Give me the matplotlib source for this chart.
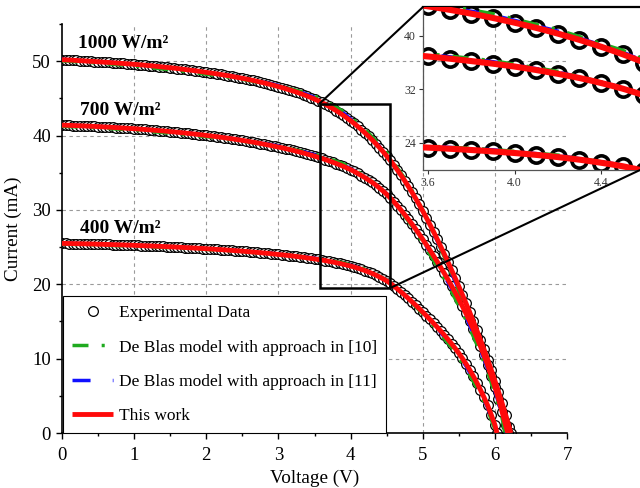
import numpy as np
import matplotlib
matplotlib.use("Agg")
import matplotlib.pyplot as plt
from matplotlib.patches import Rectangle, ConnectionPatch
from matplotlib.ticker import MultipleLocator

plt.rcParams['font.family'] = ['Liberation Serif', 'DejaVu Serif']
plt.rcParams['lines.scale_dashes'] = False

# ---------------------------------------------------------------
# measured I-V data (voltage in V, current in mA)
# ---------------------------------------------------------------
volt_grid = [0.00, 0.05, 0.10, 0.15, 0.20, 0.25, 0.30, 0.35, 0.40, 0.45,
             0.50, 0.55, 0.60, 0.65, 0.70, 0.75, 0.80, 0.85, 0.90, 0.95,
             1.00, 1.05, 1.10, 1.15, 1.20, 1.25, 1.30, 1.35, 1.40, 1.45,
             1.50, 1.55, 1.60, 1.65, 1.70, 1.75, 1.80, 1.85, 1.90, 1.95,
             2.00, 2.05, 2.10, 2.15, 2.20, 2.25, 2.30, 2.35, 2.40, 2.45,
             2.50, 2.55, 2.60, 2.65, 2.70, 2.75, 2.80, 2.85, 2.90, 2.95,
             3.00, 3.05, 3.10, 3.15, 3.20, 3.25, 3.30, 3.35, 3.40, 3.45,
             3.50, 3.55, 3.60, 3.65, 3.70, 3.75, 3.80, 3.85, 3.90, 3.95,
             4.00, 4.05, 4.10, 4.15, 4.20, 4.25, 4.30, 4.35, 4.40, 4.45,
             4.50, 4.55, 4.60, 4.65, 4.70, 4.75, 4.80, 4.85, 4.90, 4.95,
             5.00, 5.05, 5.10, 5.15, 5.20, 5.25, 5.30, 5.35, 5.40, 5.45,
             5.50, 5.55, 5.60, 5.65, 5.70, 5.75, 5.80, 5.85, 5.90, 5.95,
             6.00]

v_1000 = volt_grid + [6.05, 6.1, 6.15, 6.2, 6.22]
i_1000 = [50.20, 50.18, 50.15, 50.13, 50.10, 50.07, 50.04, 50.01, 49.98, 49.95,
          49.92, 49.89, 49.86, 49.83, 49.79, 49.76, 49.72, 49.69, 49.65, 49.62,
          49.58, 49.54, 49.50, 49.46, 49.41, 49.37, 49.32, 49.27, 49.22, 49.17,
          49.12, 49.07, 49.01, 48.95, 48.89, 48.83, 48.77, 48.71, 48.64, 48.57,
          48.50, 48.43, 48.36, 48.29, 48.21, 48.13, 48.05, 47.97, 47.88, 47.79,
          47.70, 47.61, 47.51, 47.41, 47.30, 47.19, 47.08, 46.96, 46.84, 46.71,
          46.58, 46.44, 46.30, 46.15, 46.00, 45.84, 45.67, 45.49, 45.31, 45.11,
          44.91, 44.69, 44.45, 44.20, 43.93, 43.65, 43.35, 43.04, 42.71, 42.36,
          42.00, 41.62, 41.22, 40.80, 40.36, 39.90, 39.42, 38.91, 38.39, 37.84,
          37.26, 36.65, 36.02, 35.35, 34.66, 33.93, 33.18, 32.39, 31.58, 30.73,
          29.86, 28.96, 28.03, 27.07, 26.08, 25.07, 24.04, 22.99, 21.92, 20.83,
          19.72, 18.59, 17.44, 16.26, 15.05, 13.81, 12.54, 11.23, 9.88, 8.49,
          7.05, 5.56, 4.02, 2.43, 0.78, 0.0]

v_700 = volt_grid + [6.05, 6.1, 6.15, 6.18]
i_700 = [41.40, 41.39, 41.37, 41.35, 41.33, 41.31, 41.29, 41.27, 41.25, 41.23,
         41.20, 41.18, 41.15, 41.13, 41.10, 41.07, 41.04, 41.01, 40.98, 40.95,
         40.92, 40.89, 40.85, 40.82, 40.78, 40.74, 40.70, 40.66, 40.62, 40.58,
         40.53, 40.49, 40.44, 40.39, 40.34, 40.29, 40.24, 40.19, 40.13, 40.08,
         40.02, 39.96, 39.90, 39.84, 39.77, 39.71, 39.64, 39.57, 39.50, 39.43,
         39.35, 39.27, 39.19, 39.11, 39.02, 38.93, 38.84, 38.75, 38.65, 38.55,
         38.45, 38.35, 38.24, 38.13, 38.01, 37.89, 37.77, 37.64, 37.51, 37.37,
         37.23, 37.08, 36.93, 36.77, 36.60, 36.42, 36.24, 36.05, 35.85, 35.64,
         35.42, 35.17, 34.90, 34.62, 34.33, 34.02, 33.70, 33.34, 32.95, 32.54,
         32.10, 31.61, 31.10, 30.55, 29.97, 29.37, 28.75, 28.11, 27.45, 26.76,
         26.05, 25.32, 24.58, 23.83, 23.06, 22.27, 21.46, 20.63, 19.78, 18.90,
         17.99, 17.05, 16.07, 15.05, 13.98, 12.86, 11.68, 10.43, 9.10, 7.69,
         6.19, 4.58, 2.86, 1.02, 0.0]

v_400 = volt_grid + [6.03]
i_400 = [25.50, 25.49, 25.48, 25.47, 25.46, 25.45, 25.44, 25.43, 25.42, 25.41,
         25.39, 25.38, 25.36, 25.35, 25.33, 25.32, 25.30, 25.29, 25.27, 25.26,
         25.24, 25.22, 25.20, 25.18, 25.16, 25.14, 25.12, 25.10, 25.08, 25.06,
         25.04, 25.02, 24.99, 24.97, 24.94, 24.92, 24.89, 24.87, 24.84, 24.81,
         24.78, 24.75, 24.72, 24.69, 24.66, 24.63, 24.59, 24.56, 24.52, 24.49,
         24.45, 24.41, 24.37, 24.33, 24.29, 24.25, 24.20, 24.16, 24.11, 24.06,
         24.01, 23.96, 23.91, 23.86, 23.80, 23.74, 23.68, 23.62, 23.55, 23.48,
         23.41, 23.34, 23.26, 23.18, 23.09, 23.00, 22.90, 22.80, 22.69, 22.57,
         22.45, 22.32, 22.17, 22.01, 21.84, 21.65, 21.45, 21.23, 20.99, 20.74,
         20.46, 20.13, 19.76, 19.37, 18.96, 18.54, 18.11, 17.66, 17.21, 16.74,
         16.26, 15.77, 15.27, 14.76, 14.24, 13.71, 13.16, 12.59, 12.00, 11.38,
         10.73, 10.04, 9.30, 8.51, 7.67, 6.77, 5.81, 4.79, 3.70, 2.45,
         1.10, 0.0]

# ---------------------------------------------------------------
# De Blas model curves (approach [10] green, approach [11] blue)
# ---------------------------------------------------------------
model_v = [0.0, 0.5, 1.0, 1.5, 2.0, 2.5, 3.0, 3.3, 3.6, 3.9, 4.2,
           4.5, 4.8, 5.0, 5.2, 5.4, 5.6, 5.8, 5.9, 6.0, 6.1]

g_v_1000 = model_v + [6.17]
g_i_1000 = [50.05, 49.75, 49.35, 48.85, 48.25, 47.55, 46.65, 45.95, 44.95, 43.25, 40.85,
            37.75, 33.55, 30.00, 25.90, 21.40, 16.70, 11.70, 9.00, 6.10, 3.00, 0.0]
b_v_1000 = model_v + [6.2]
b_i_1000 = [50.25, 49.97, 49.62, 49.15, 48.55, 47.78, 46.75, 45.90, 44.75, 43.05, 40.65,
            37.50, 33.30, 29.80, 25.85, 21.55, 16.95, 12.00, 9.30, 6.50, 3.50, 0.0]

g_v_700 = model_v + [6.14]
g_i_700 = [41.25, 41.05, 40.72, 40.32, 39.85, 39.25, 38.50, 37.95, 37.25, 36.20, 34.60,
           32.20, 28.50, 25.60, 22.40, 19.00, 15.20, 10.80, 8.20, 5.30, 2.00, 0.0]
b_v_700 = model_v + [6.16]
b_i_700 = [41.45, 41.25, 40.97, 40.58, 40.08, 39.42, 38.60, 37.95, 37.15, 36.05, 34.50,
           32.20, 28.70, 25.90, 22.80, 19.40, 15.60, 11.20, 8.60, 5.70, 2.40, 0.0]

g_v_400 = model_v[:20] + [6.02]
g_i_400 = [25.40, 25.28, 25.12, 24.92, 24.68, 24.38, 24.02, 23.75, 23.40, 22.88, 22.05,
           20.55, 18.00, 16.00, 13.85, 11.50, 8.70, 5.20, 3.10, 0.50, 0.0]
b_v_400 = model_v[:20] + [6.03]
b_i_400 = [25.52, 25.41, 25.26, 25.06, 24.80, 24.48, 24.08, 23.77, 23.38, 22.83, 21.98,
           20.55, 18.10, 16.15, 14.05, 11.75, 9.00, 5.50, 3.40, 0.80, 0.0]

irradiance_labels = ['1000 W/m²', '700 W/m²', '400 W/m²']
legend_labels = ['Experimental Data', 'De Blas model with approach in [10]',
                 'De Blas model with approach in [11]', 'This work']

exp_sets = [(v_1000, i_1000), (v_700, i_700), (v_400, i_400)]
green_sets = [(g_v_1000, g_i_1000), (g_v_700, g_i_700), (g_v_400, g_i_400)]
blue_sets = [(b_v_1000, b_i_1000), (b_v_700, b_i_700), (b_v_400, b_i_400)]

GREEN = '#1faa1f'
BLUE = '#1010ff'
RED = '#ff0a0a'
GREEN_DASH = (0, (11.5, 9.5, 2.2, 9.5))
BLUE_DASH = (0, (13, 16))


def draw_curves(a, ms, mew, lw_model, lw_red, skip=1):
    handles = []
    for k in range(3):
        v, i = exp_sets[k]
        h0, = a.plot(v[::skip], i[::skip], 'o', ms=ms, mfc='white', mec='black',
                     mew=mew, zorder=2)
        h2, = a.plot(*blue_sets[k], color=BLUE, lw=lw_model, linestyle=BLUE_DASH, zorder=3)
        h1, = a.plot(*green_sets[k], color=GREEN, lw=lw_model, linestyle=GREEN_DASH, zorder=3.5)
        h3, = a.plot(v, i, color=RED, lw=lw_red, solid_capstyle='butt', zorder=4)
        if k == 0:
            handles = [h0, h1, h2, h3]
    return handles


fig = plt.figure(figsize=(6.4, 4.88), dpi=100)
ax = fig.add_axes([62 / 640, 55 / 488, 505 / 640, 409 / 488])

# grid (dashed grey, major positions only)
for gx in [1, 2, 3, 4, 5, 6]:
    ax.axvline(gx, color='#9a9a9a', lw=0.8, linestyle=(0, (2.5, 2.5)), zorder=0.5)
for gy in [10, 20, 30, 40, 50]:
    ax.axhline(gy, color='#9a9a9a', lw=0.8, linestyle=(0, (2.5, 2.5)), zorder=0.5)

handles = draw_curves(ax, 7, 0.9, 2.5, 3.5)

ax.set_xlim(0, 7)
ax.set_ylim(0, 55)
ax.set_xticks(range(8))
ax.set_yticks([0, 10, 20, 30, 40, 50])
ax.xaxis.set_minor_locator(MultipleLocator(0.5))
ax.yaxis.set_minor_locator(MultipleLocator(5))
ax.tick_params(which='major', direction='out', length=4, width=1.0, labelsize=13.5)
ax.tick_params(which='minor', direction='out', length=2.2, width=1.0)
ax.tick_params(axis='x', pad=6)
ax.tick_params(axis='y', pad=4)
for s in ['top', 'right']:
    ax.spines[s].set_visible(False)
for s in ['left', 'bottom']:
    ax.spines[s].set_linewidth(1.2)

ax.set_xlabel('Voltage (V)', fontsize=13.8, labelpad=4)
ax.set_ylabel('Current (mA)', fontsize=13.8, labelpad=7)

ax.text(0.22, 52.4, irradiance_labels[0], fontsize=14, fontweight='bold', va='center')
ax.text(0.25, 43.4, irradiance_labels[1], fontsize=14, fontweight='bold', va='center')
ax.text(0.25, 27.5, irradiance_labels[2], fontsize=14, fontweight='bold', va='center')

leg = ax.legend(handles, legend_labels, loc='lower left', bbox_to_anchor=(0.002, 0.0),
                borderaxespad=0, fontsize=12.5, numpoints=1, handlelength=2.4,
                handletextpad=0.35, labelspacing=1.05, borderpad=0.5,
                fancybox=False, framealpha=1, edgecolor='black')
leg.get_frame().set_linewidth(0.8)
leg.set_zorder(10)

# zoom box and inset
ax.add_patch(Rectangle((3.57, 19.5), 0.98, 24.8, fill=False, ec='black', lw=1.8, zorder=6))

axins = fig.add_axes([423 / 640, 318 / 488, 217 / 640, 163 / 488])
axins.patch.set_alpha(0)
draw_curves(axins, 11, 2.6, 3.4, 4.4, skip=2)
axins.set_xlim(3.577, 4.58)
axins.set_ylim(19.9, 44.35)
axins.set_xticks([3.6, 4.0, 4.4])
axins.set_xticklabels(['3.6', '4.0', '4.4'])
axins.set_yticks([24, 32, 40])
axins.tick_params(direction='out', length=3, width=0.8, labelsize=8.5, pad=2, colors='#333333')
axins.spines['right'].set_visible(False)
axins.spines['top'].set_linewidth(1.6)
for s in ['left', 'bottom']:
    axins.spines[s].set_color('#555555')
    axins.spines[s].set_linewidth(0.9)

for xy_a, xy_b in [((3.57, 44.3), (0, 1)), ((4.55, 19.5), (1, 0))]:
    con = ConnectionPatch(xyA=xy_a, coordsA=ax.transData, xyB=xy_b, coordsB=axins.transAxes,
                          color='black', lw=1.5)
    fig.add_artist(con)

fig.savefig('out.png', dpi=100)
